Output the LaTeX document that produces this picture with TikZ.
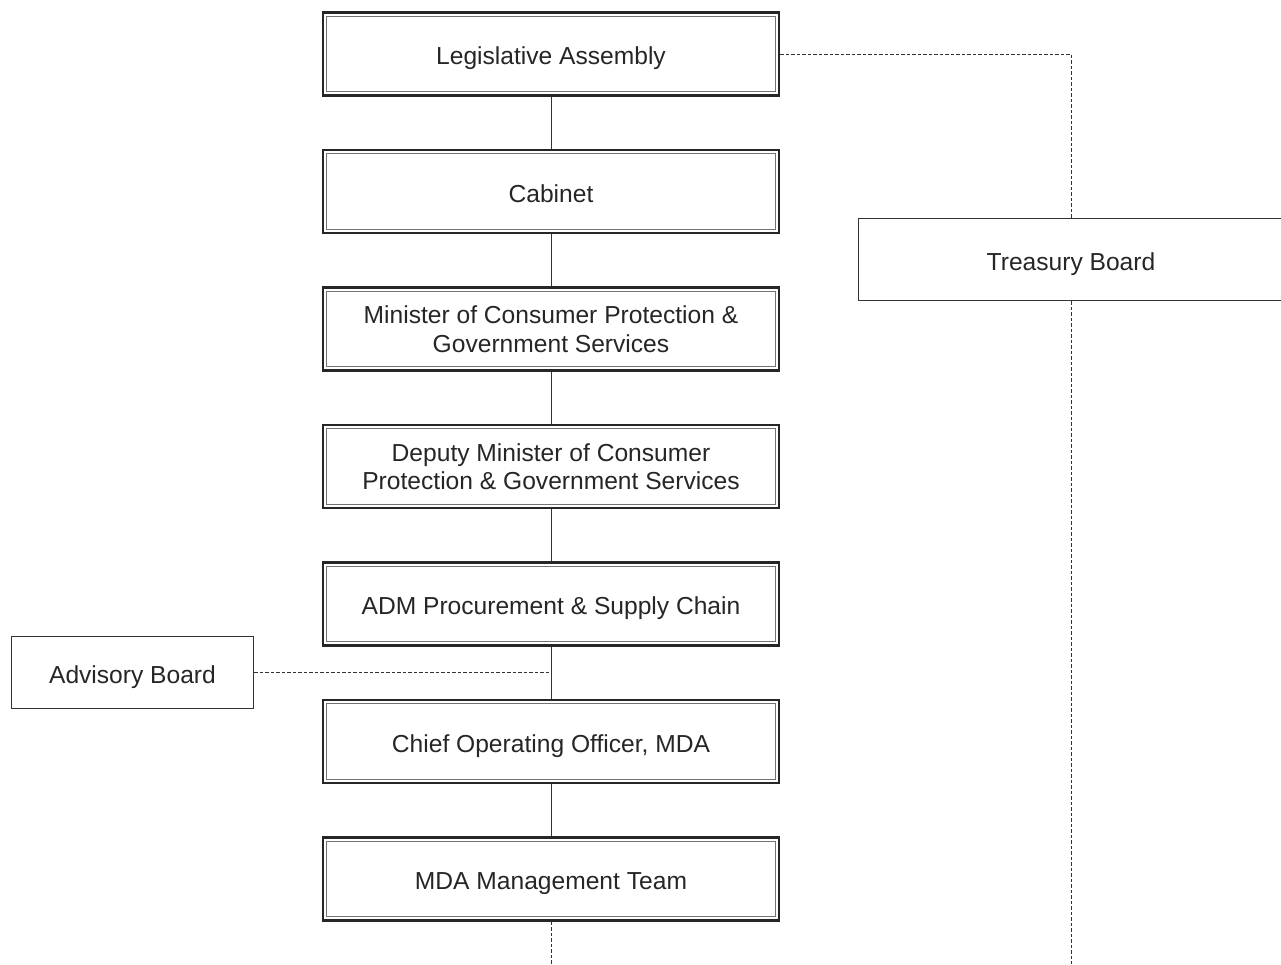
\documentclass[tikz,border=0pt]{standalone}
\usepackage{fontspec}
\setmainfont{Liberation Sans}
\def\colx{551pt}
\def\ysep{137.5pt}
\def\topy{-54pt}

\begin{document}
\begin{tikzpicture}[
    mainbox/.style={
      draw=black!85, line width=2.6pt,
      minimum width=456pt, minimum height=83pt,
      align=center, text=black!85,
      font=\fontsize{24.6}{28.5}\selectfont,
      path picture={
        \draw[black!55, line width=1pt]
          ([shift={(3.7pt,-3.7pt)}]path picture bounding box.north west) rectangle
          ([shift={(-3.7pt,3.7pt)}]path picture bounding box.south east);
      }
    },
    sidebox/.style={
      draw=black!80, line width=1pt,
      align=center, text=black!85,
      font=\fontsize{24.6}{28.5}\selectfont
    },
    oneline/.style={
      text height=21pt, text depth=0pt
    },
    link/.style={
      draw=black!80, line width=0.9pt
    },
    dotlink/.style={
      link, dash pattern=on 3.5pt off 2pt
    }
  ]
    \clip (0,0) rectangle (1281pt,-964pt);
    \useasboundingbox (0,0) rectangle (1281pt,-964pt);

    % main column
    \node[mainbox,oneline] (Legis)  at (\colx, \topy-0*\ysep) {Legislative Assembly};
    \node[mainbox,oneline] (Cab)    at (\colx, \topy-1*\ysep) {Cabinet};
    \node[mainbox]         (Min)    at (\colx, \topy-2*\ysep) {Minister of Consumer Protection \&\\Government Services};
    \node[mainbox]         (DepMin) at (\colx, \topy-3*\ysep) {Deputy Minister of Consumer\\Protection \& Government Services};
    \node[mainbox,oneline] (ADM)    at (\colx, \topy-4*\ysep) {ADM Procurement \& Supply Chain};
    \node[mainbox,oneline] (COO)    at (\colx, \topy-5*\ysep) {Chief Operating Officer, MDA};
    \node[mainbox,oneline] (Team)   at (\colx, \topy-6*\ysep) {MDA Management Team};

    % side boards
    \node[sidebox, oneline, minimum width=242pt, minimum height=72pt] (Advisory) at (132.5pt,-672.5pt) {Advisory Board};
    \node[sidebox, oneline, minimum width=425pt, minimum height=82pt] (Treasury) at (1071pt,-259.5pt) {Treasury Board};

    % solid links
    \draw[link] (Legis)  -- (Cab);
    \draw[link] (Cab)    -- (Min);
    \draw[link] (Min)    -- (DepMin);
    \draw[link] (DepMin) -- (ADM);
    \draw[link] (ADM)    -- (COO);
    \draw[link] (COO)    -- (Team);

    % dashed links
    \coordinate (AdvJoin) at (\colx, -672.5pt);
    \coordinate (TeamEnd) at (\colx, -964pt);
    \coordinate (TreasEnd) at (1071pt, -964pt);
    \draw[dotlink] (Advisory.east) -- (AdvJoin);
    \draw[dotlink] (Legis.east) -| (Treasury.north);
    \draw[dotlink] (Treasury.south) -- (TreasEnd);
    \draw[dotlink] (Team.south) -- (TeamEnd);
  \end{tikzpicture}
\end{document}
